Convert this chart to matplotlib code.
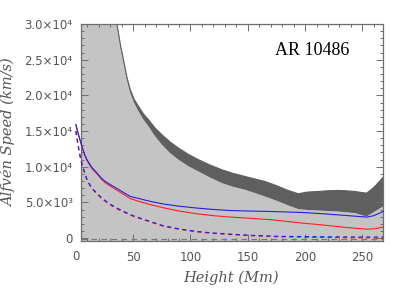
import numpy as np
import matplotlib
matplotlib.use('Agg')
import matplotlib.pyplot as plt
from matplotlib.ticker import MultipleLocator, FixedLocator
import matplotlib.transforms as mtransforms

# Range of Alfven speeds (grey band) versus height
band_h = [4.5, 15, 25, 32, 35.9, 39, 41.6, 44.5, 47.5, 51, 54.7, 59, 63.4, 69, 75.1,
          82, 89.5, 98, 107, 117, 127.4, 137, 147.6, 157, 165, 171, 176.7, 185,
          194.1, 202, 211.5, 220, 228.9, 236, 243.5, 249, 253.7, 257, 260.9, 264.5, 268]
band_upper = [200000, 90000, 50000, 34500, 30000, 27000, 25000, 22600, 20800, 19400,
              18460, 17400, 16600, 15450, 14490, 13500, 12630, 11750, 10990, 10250,
              9580, 9080, 8640, 8260, 7940, 7600, 7240, 6700, 6220, 6450, 6540, 6640,
              6680, 6630, 6540, 6400, 6310, 6700, 7240, 7900, 8500]
band_lower = [199000, 89500, 49700, 34200, 29700, 26700, 24600, 22200, 20300, 18900,
              17760, 16600, 15660, 14300, 13090, 11950, 10990, 10100, 9340, 8500,
              7720, 7200, 6780, 6280, 5840, 5490, 5140, 4600, 4070, 3940, 3870, 3800,
              3730, 3620, 3510, 3250, 3030, 3350, 3730, 4100, 4430]

# model curves
h_solid = [0, 2, 4, 6, 8, 10, 14, 18.5, 22, 25.7, 30, 35, 40, 47.5, 55, 65, 76.5, 90,
           105.6, 120, 134.8, 150, 170.9, 198.2, 215, 227.8, 240, 253.9, 260, 268]
blue_solid = [15900, 14700, 13600, 12500, 11600, 10900, 9900, 9120, 8450, 7940, 7500,
              7050, 6550, 5840, 5550, 5150, 4780, 4480, 4210, 4020, 3870, 3800, 3730,
              3590, 3420, 3270, 3120, 2950, 3150, 3730]
red_solid = [15900, 14600, 13500, 12400, 11500, 10800, 9750, 9000, 8300, 7750, 7300,
             6800, 6300, 5550, 5150, 4700, 4250, 3800, 3410, 3150, 2950, 2800, 2570,
             2100, 1850, 1630, 1430, 1260, 1300, 1540]

h_dash = [0, 2, 4, 6, 9.8, 14, 21.3, 28, 35.8, 43, 50.3, 60, 76.3, 90, 105.6, 120,
          134.8, 155, 178.1, 210, 240, 268]
blue_dash = [15000, 13000, 11300, 10000, 8180, 7000, 5840, 4950, 4210, 3650, 3120,
             2600, 1730, 1300, 930, 720, 560, 380, 250, 200, 160, 150]
red_dash = [15000, 12900, 11200, 9900, 8080, 6900, 5740, 4850, 4110, 3560, 3040,
            2520, 1670, 1240, 880, 670, 500, 320, 180, 110, 60, 20]

zero_h = [4.5, 268]
zero_v = [-80, -80]

yticks = [0, 5000, 10000, 15000, 20000, 25000, 30000]
ytick_labels = ['0', '5.0×10³', '1.0×10⁴', '1.5×10⁴', '2.0×10⁴', '2.5×10⁴', '3.0×10⁴']
xticks = [50, 100, 150, 200, 250]

axis_col = '#6e6e6e'
text_col = '#555555'

fig = plt.figure(figsize=(4.07, 2.91), dpi=100)
ax = fig.add_axes([81 / 407, 1 - 241 / 291, 302 / 407, 217 / 291])

ax.fill_between(band_h, -1000, band_lower, color='#c4c4c4', lw=0, zorder=1)
ax.fill_between(band_h, band_lower, band_upper, color='#5f5f5f', lw=0, zorder=1)
ax.plot(band_h, band_upper, color='#5f5f5f', lw=0.8, zorder=1)

ax.plot(zero_h, zero_v, color='#777777', lw=0.8, dashes=(5, 4), zorder=2)
ax.plot(h_dash, red_dash, color='#ff2020', lw=0.85, dashes=(3.5, 3), zorder=3, clip_on=False)
ax.plot(h_dash, blue_dash, color='#2020e0', lw=0.85, dashes=(3.5, 3), zorder=3, clip_on=False)
ax.plot(h_solid, red_solid, color='#ff2020', lw=0.8, zorder=3, clip_on=False)
ax.plot(h_solid, blue_solid, color='#2020e0', lw=0.8, zorder=4, clip_on=False)

ax.set_xlim(4.5, 268)
ax.set_ylim(-400, 30000)

ax.xaxis.set_major_locator(FixedLocator(xticks))
ax.xaxis.set_minor_locator(MultipleLocator(10))
ax.set_yticks(yticks)
ax.set_yticklabels(ytick_labels)
ax.yaxis.set_minor_locator(MultipleLocator(1000))
ax.tick_params(which='both', direction='in', top=True, right=True, color=axis_col,
               labelcolor=text_col, labelsize=8.5, width=0.7)
ax.tick_params(which='major', length=5)
ax.tick_params(which='minor', length=2.5)
ax.tick_params(axis='x', pad=7)
ax.tick_params(axis='y', pad=6)
for s in ax.spines.values():
    s.set_color(axis_col)
    s.set_linewidth(0.9)

# "0" tick label lies left of the axis start
trans = mtransforms.blended_transform_factory(ax.transData, ax.transAxes)
ax.text(0, -0.043, '0', transform=trans, ha='center', va='top', fontsize=8.5,
        color=text_col, clip_on=False)

ax.text(0.765, 0.88, 'AR 10486', transform=ax.transAxes, ha='center', va='center',
        fontsize=13, family='Liberation Serif', color='black')

fig.text(9 / 407, 1 - 133 / 291, 'Alfvén Speed (km/s)', rotation=90, ha='center',
         va='center', fontsize=10.5, family='DejaVu Serif', style='italic', color=text_col)
fig.text(231 / 407, 1 - 278 / 291, 'Height (Mm)', ha='center', va='center',
         fontsize=10.5, family='DejaVu Serif', style='italic', color=text_col)

fig.savefig('out.png', dpi=100)
